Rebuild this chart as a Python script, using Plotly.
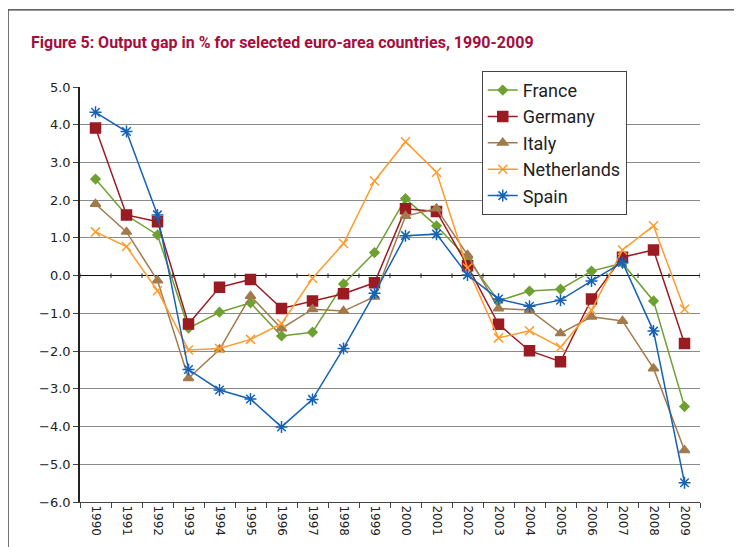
import plotly.graph_objects as go

years = [str(y) for y in range(1990, 2010)]

france = [2.56, 1.6, 1.08, -1.39, -0.97, -0.72, -1.6, -1.5, -0.22, 0.61,
          2.04, 1.32, 0.45, -0.67, -0.41, -0.36, 0.12, 0.33, -0.67, -3.47]
germany = [3.91, 1.61, 1.43, -1.28, -0.31, -0.1, -0.87, -0.67, -0.48, -0.19,
           1.77, 1.7, 0.26, -1.29, -1.99, -2.28, -0.62, 0.49, 0.68, -1.8]
italy = [1.9, 1.16, -0.13, -2.72, -1.96, -0.54, -1.4, -0.89, -0.94, -0.56,
         1.58, 1.78, 0.55, -0.87, -0.91, -1.53, -1.09, -1.2, -2.46, -4.63]
netherlands = [1.16, 0.77, -0.4, -1.97, -1.93, -1.69, -1.27, -0.07, 0.85, 2.51,
               3.55, 2.74, 0.2, -1.65, -1.46, -1.9, -0.91, 0.68, 1.32, -0.89]
spain = [4.33, 3.82, 1.61, -2.49, -3.03, -3.27, -4.01, -3.28, -1.93, -0.47,
         1.06, 1.1, 0.02, -0.62, -0.81, -0.65, -0.14, 0.35, -1.47, -5.49]

series = [
    ("France", france, "#6fa032", "diamond", 7),
    ("Germany", germany, "#9b1b22", "square", 10),
    ("Italy", italy, "#a27a4c", "triangle-up", 9),
    ("Netherlands", netherlands, "#ff9b2e", "x-thin-open", 9),
    ("Spain", spain, "#1662b4", "asterisk-open", 10),
]

fig = go.Figure()
for name, vals, color, symbol, size in series:
    fig.add_trace(go.Scatter(
        x=years, y=vals, name=name, mode="lines+markers",
        line=dict(color=color, width=1.5),
        marker=dict(color=color, symbol=symbol, size=size,
                    line=dict(color=color, width=1.5)),
    ))

# small tick marks along the zero line (category boundaries)
for i in range(len(years) + 1):
    fig.add_shape(type="line", xref="x", yref="y",
                  x0=i - 0.5, x1=i - 0.5, y0=-0.06, y1=0.06,
                  line=dict(color="#222", width=1))

# outer frame (top and left edges)
fig.add_shape(type="line", xref="paper", yref="paper",
              x0=-0.116, x1=1.2, y0=1.186, y1=1.186,
              line=dict(color="#333", width=1.2))
fig.add_shape(type="line", xref="paper", yref="paper",
              x0=-0.116, x1=-0.116, y0=1.186, y1=-0.2,
              line=dict(color="#333", width=1.2))

# page body adds an 8px offset, so margins are shifted to compensate
fig.update_layout(
    width=742, height=547,
    margin=dict(l=72, r=50, t=79, b=53),
    paper_bgcolor="white", plot_bgcolor="white",
    title=dict(
        text="Figure 5: Output gap in % for selected euro-area countries, 1990-2009",
        font=dict(family="Roboto, sans-serif", size=16, weight="bold",
                  color="#a60d3c"),
        x=23 / 742, xanchor="left", xref="container",
        y=1 - 34 / 547, yanchor="middle", yref="container",
    ),
    font=dict(family="DejaVu Sans, sans-serif", size=12, color="#222"),
    xaxis=dict(
        type="category", tickson="boundaries", ticks="outside",
        ticklen=5, tickcolor="#444", tickangle=90,
        showline=True, linecolor="#444", linewidth=1,
        showgrid=False, tickfont=dict(size=12), automargin=False,
        range=[-0.5, len(years) - 0.5],
    ),
    yaxis=dict(
        range=[-6, 5], dtick=1, tickformat=".1f",
        showline=True, linecolor="#222", linewidth=1.5,
        ticks="outside", ticklen=5, tickcolor="#444",
        gridcolor="#8a8a8a", gridwidth=1.2, automargin=False,
        zeroline=True, zerolinecolor="#111", zerolinewidth=1.2,
        tickfont=dict(size=13),
    ),
    legend=dict(
        x=0.648, y=1.039, xanchor="left", yanchor="top",
        bgcolor="white", bordercolor="#444", borderwidth=1,
        font=dict(family="Roboto, sans-serif", size=18, color="#222"),
        tracegroupgap=0, itemwidth=30,
    ),
)

fig.write_html("out.html")
